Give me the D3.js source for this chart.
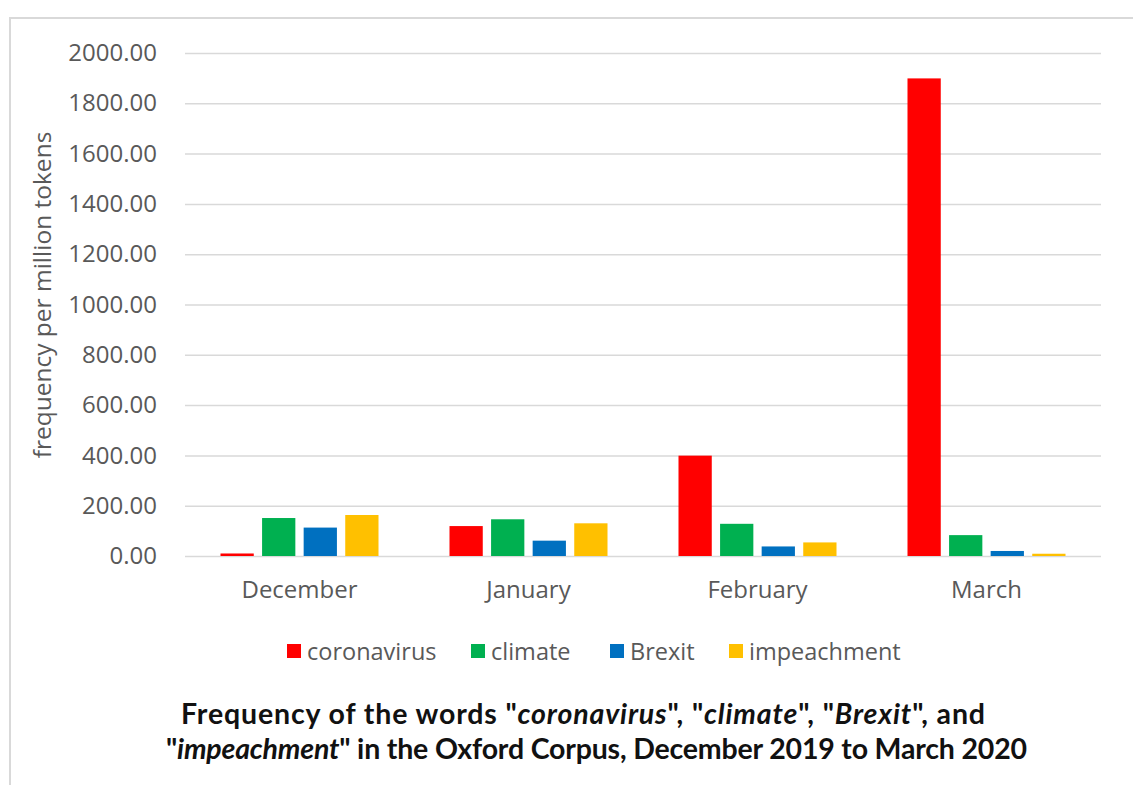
<!DOCTYPE html>
<html>
<head>
<meta charset="utf-8">
<script src="https://cdn.jsdelivr.net/npm/d3@7"></script>
<style>
  html, body { margin: 0; padding: 0; background: #fff; }
  svg { display: block; }
</style>
</head>
<body>
<svg id="chart" width="1133" height="785"></svg>
<script>
// Monthly frequency (per million tokens) of four words in the Oxford Corpus
const months = ["December", "January", "February", "March"];
const words = ["coronavirus", "climate", "Brexit", "impeachment"];
const coronavirus = [10, 119, 399, 1899];
const climate = [151, 146, 128, 83];
const brexit = [113, 61, 38, 20];
const impeachment = [163, 130, 54, 9];
const yTicks = [0, 200, 400, 600, 800, 1000, 1200, 1400, 1600, 1800, 2000];
const colors = ["#ff0000", "#00b050", "#0070c0", "#ffc000"];

const seriesValues = [coronavirus, climate, brexit, impeachment];
const rows = months.map((m, i) => ({
  month: m,
  values: words.map((w, k) => ({ word: w, value: seriesValues[k][i] }))
}));

const svg = d3.select("#chart");
const font = "'Open Sans', 'Noto Sans', sans-serif";
const titleFont = "Lato, 'Open Sans', sans-serif";
const gray = "#595959";

// outer frame (top and left edges)
svg.append("path")
  .attr("d", "M10,785 V18 H1133")
  .attr("fill", "none")
  .attr("stroke", "#d9d9d9")
  .attr("stroke-width", 2);

const plot = { left: 185, right: 1101, top: 53, bottom: 556 };

const y = d3.scaleLinear().domain([0, 2000]).range([plot.bottom, plot.top]);
const x0 = d3.scaleBand().domain(months).range([plot.left, plot.right])
  .paddingInner(0.31).paddingOuter(0.155);
const x1 = d3.scaleBand().domain(words).range([0, x0.bandwidth()]).paddingInner(0.2);
const color = d3.scaleOrdinal().domain(words).range(colors);

// gridlines + tick labels
const yAxis = d3.axisLeft(y)
  .tickValues(yTicks)
  .tickSize(-(plot.right - plot.left))
  .tickPadding(28)
  .tickFormat(d3.format(".2f"));

const gy = svg.append("g")
  .attr("transform", `translate(${plot.left},0)`)
  .call(yAxis);
gy.select(".domain").remove();
gy.selectAll(".tick line").attr("stroke", "#d9d9d9").attr("stroke-width", 1.5);
gy.selectAll(".tick text")
  .attr("fill", gray)
  .style("font-family", font)
  .style("font-size", "24px");

// bars
const groups = svg.append("g").selectAll("g")
  .data(rows)
  .join("g")
  .attr("transform", d => `translate(${x0(d.month)},0)`);

groups.selectAll("rect")
  .data(d => d.values)
  .join("rect")
  .attr("x", d => x1(d.word))
  .attr("width", x1.bandwidth())
  .attr("y", d => y(d.value))
  .attr("height", d => y(0) - y(d.value))
  .attr("fill", d => color(d.word));

// category axis labels
const xAxis = d3.axisBottom(x0).tickSize(0).tickPadding(25);
const gx = svg.append("g")
  .attr("transform", `translate(0,${plot.bottom})`)
  .call(xAxis);
gx.select(".domain").remove();
gx.selectAll(".tick text")
  .attr("fill", gray)
  .style("font-family", font)
  .style("font-size", "24px");

// y-axis title
svg.append("text")
  .attr("transform", "translate(41,295) rotate(-90)")
  .attr("text-anchor", "middle")
  .attr("dominant-baseline", "central")
  .attr("fill", gray)
  .style("font-family", font)
  .style("font-size", "24.5px")
  .text("frequency per million tokens");

// legend
const legendX = [287, 471, 610, 729];
const legend = svg.append("g").selectAll("g")
  .data(words)
  .join("g")
  .attr("transform", (d, i) => `translate(${legendX[i]},651)`);
legend.append("rect")
  .attr("x", 0).attr("y", -7)
  .attr("width", 14).attr("height", 14)
  .attr("fill", d => color(d));
legend.append("text")
  .attr("x", 20)
  .attr("dominant-baseline", "central")
  .attr("fill", gray)
  .style("font-family", font)
  .style("font-size", "23.5px")
  .text(d => d);

// chart title, two lines with italic word runs
const titleLines = [
  { x: 181, cy: 713, len: 804, parts: [
    ["Frequency of the words \"", false], ["coronavirus", true], ["\", \"", false],
    ["climate", true], ["\", \"", false], ["Brexit", true], ["\", and", false]
  ]},
  { x: 166, cy: 748, len: 861, parts: [
    ["\"", false], ["impeachment", true], ["\" in the Oxford Corpus, December 2019 to March 2020", false]
  ]}
];
titleLines.forEach(line => {
  const t = svg.append("text")
    .attr("x", line.x)
    .attr("y", line.cy)
    .attr("textLength", line.len)
    .attr("lengthAdjust", "spacing")
    .attr("dominant-baseline", "central")
    .attr("fill", "#111")
    .style("font-family", titleFont)
    .style("font-weight", "bold")
    .style("font-size", "28.5px");
  line.parts.forEach(([s, it]) => {
    t.append("tspan").attr("font-style", it ? "italic" : "normal").text(s);
  });
});
</script>
</body>
</html>
